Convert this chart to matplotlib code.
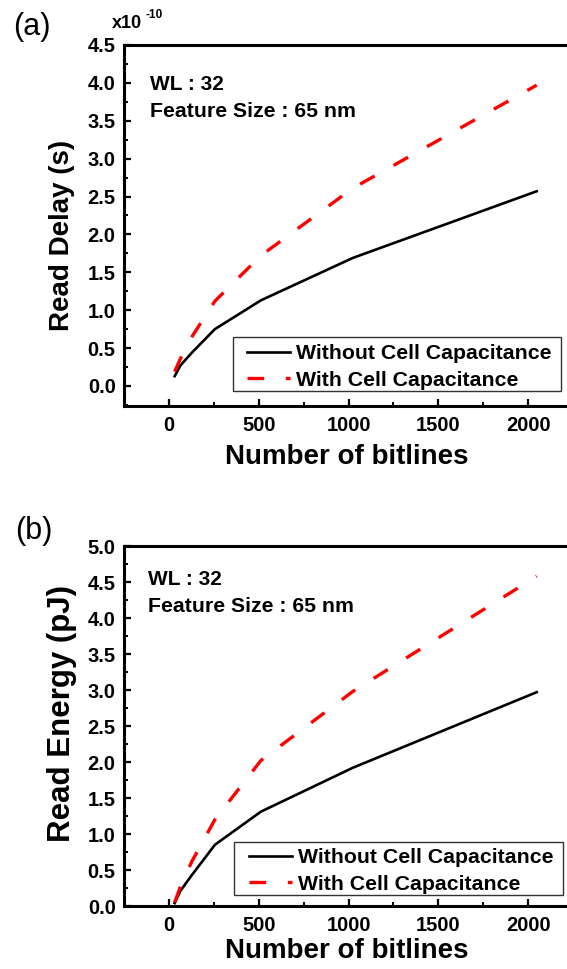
import matplotlib
matplotlib.use("Agg")
import matplotlib.pyplot as plt
from matplotlib.ticker import MultipleLocator, FormatStrFormatter
from matplotlib.patches import Rectangle

plt.rcParams['font.family'] = ['Liberation Sans', 'DejaVu Sans']

bitlines = [32, 64, 128, 256, 512, 1024, 2048]
delay_without = [0.13, 0.27, 0.44, 0.75, 1.13, 1.69, 2.57]
delay_with = [0.19, 0.36, 0.65, 1.12, 1.72, 2.61, 3.97]
energy_without = [0.04, 0.21, 0.43, 0.85, 1.31, 1.92, 2.97]
energy_with = [0.05, 0.27, 0.62, 1.20, 2.02, 2.98, 4.58]

legend_labels = ["Without Cell Capacitance", "With Cell Capacitance"]
xticks = [0, 500, 1000, 1500, 2000]

W, H = 567, 969
fig = plt.figure(figsize=(W / 100, H / 100), dpi=100)


def px_rect(l, t, r, b):
    return [l / W, 1 - b / H, (r - l) / W, (b - t) / H]


def style(ax, ymax, ymin):
    ax.set_xlim(-250, 2250)
    ax.set_ylim(ymin, ymax)
    ax.set_xticks(xticks)
    ax.xaxis.set_minor_locator(MultipleLocator(250))
    ax.yaxis.set_major_locator(MultipleLocator(0.5))
    ax.yaxis.set_minor_locator(MultipleLocator(0.25))
    ax.yaxis.set_major_formatter(FormatStrFormatter('%.1f'))
    for s in ax.spines.values():
        s.set_linewidth(2.2)
    ax.tick_params(axis='both', which='major', direction='in', length=5,
                   width=1.6, labelsize=14.5)
    ax.tick_params(axis='both', which='minor', direction='in', length=3,
                   width=1.4)
    ax.tick_params(axis='x', which='both', pad=7)
    ax.tick_params(axis='y', which='both', pad=6)
    for lab in ax.get_xticklabels() + ax.get_yticklabels():
        lab.set_fontweight('bold')


def draw(ax, yw, yc, box, handle_x, row1_y, txt_x, txt_y1, txt_y2):
    ax.plot(bitlines, yw, color='black', lw=1.9, label=legend_labels[0],
            solid_joinstyle='round')
    ax.plot(bitlines, yc, color='#ff0000', lw=2.4, dashes=(5, 6.5),
            label=legend_labels[1])
    # legend frame drawn separately
    x0, y0, x1, y1 = box
    ax.add_patch(Rectangle((x0, y0), x1 - x0, y1 - y0, transform=ax.transAxes,
                           facecolor='white', edgecolor='#333333', lw=1.0,
                           zorder=4))
    leg = ax.legend(loc='upper left', bbox_to_anchor=(handle_x, row1_y),
                    borderaxespad=0, handlelength=2.0, handletextpad=0.3,
                    labelspacing=0.36, borderpad=0.0, frameon=False,
                    prop={'weight': 'bold', 'size': 15.3})
    leg.set_zorder(5)
    ax.text(txt_x, txt_y1, "WL : 32", transform=ax.transAxes, fontsize=15,
            fontweight='bold', va='baseline')
    ax.text(txt_x, txt_y2, "Feature Size : 65 nm", transform=ax.transAxes,
            fontsize=15.3, fontweight='bold', va='baseline')


# top panel (axes px: l=124, t=45, r=573, b=406)
ax1 = fig.add_axes(px_rect(124, 45, 573, 406))
draw(ax1, delay_without, delay_with,
     ((233 - 124) / 449, (406 - 391) / 361, (561 - 124) / 449, (406 - 337) / 361),
     (247 - 124) / 449, (406 - 344) / 361,
     0.058, 0.875, 0.80)
style(ax1, 4.5, -0.264)

# bottom panel (axes px: l=124, t=546, r=573, b=906)
ax2 = fig.add_axes(px_rect(124, 546, 573, 906))
draw(ax2, energy_without, energy_with,
     ((234 - 124) / 449, (906 - 895) / 360, (563 - 124) / 449, (906 - 842) / 360),
     (249 - 124) / 449, (906 - 848) / 360,
     0.053, 0.892, 0.817)
style(ax2, 5.0, 0.0)

# labels
fig.text(62 / W, 1 - 235 / H, "Read Delay (s)", rotation=90, fontsize=20,
         fontweight='bold', ha='center', va='center')
fig.text(62 / W, 1 - 714 / H, "Read Energy (pJ)", rotation=90, fontsize=22.5,
         fontweight='bold', ha='center', va='center')
fig.text(346.5 / W, 1 - 457 / H, "Number of bitlines", fontsize=20,
         fontweight='bold', ha='center', va='center')
fig.text(346.5 / W, 1 - 951 / H, "Number of bitlines", fontsize=20,
         fontweight='bold', ha='center', va='center')

fig.text(32 / W, 1 - 27 / H, "(a)", fontsize=22, ha='center', va='center')
fig.text(34 / W, 1 - 531 / H, "(b)", fontsize=22, ha='center', va='center')

fig.text(112 / W, 1 - 28 / H, "x10", fontsize=13, fontweight='bold',
         ha='left', va='baseline')
fig.text(146 / W, 1 - 18 / H, "-10", fontsize=8.5, fontweight='bold',
         ha='left', va='baseline')

fig.savefig("out.png", dpi=100)
